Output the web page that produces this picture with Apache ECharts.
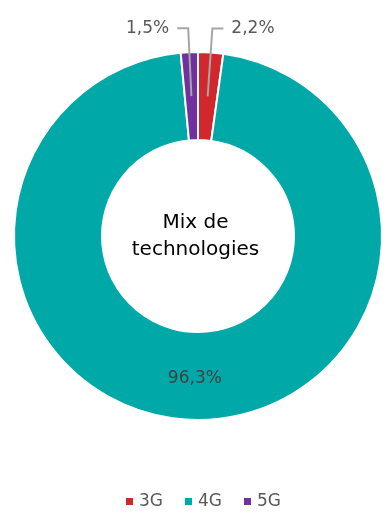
<!DOCTYPE html>
<html>
<head>
<meta charset="utf-8">
<script src="https://cdn.jsdelivr.net/npm/echarts@6/dist/echarts.min.js"></script>
<style>
  html, body { margin: 0; padding: 0; background: #fff; }
  #chart { width: 391px; height: 515px; }
</style>
</head>
<body>
<div id="chart"></div>
<script>
  // données
  const categories = ['3G', '4G', '5G'];
  const values = [2.2, 96.3, 1.5];
  const colors = ['#D0282C', '#00A9A8', '#7030A0'];

  const cx = 198, cy = 236;
  const rIn = 96, rOut = 184;
  const rMid = (rIn + rOut) / 2;

  const fmt = function (p) { return String(p.value).replace('.', ',') + '%'; };
  const font = 'DejaVu Sans';

  const chart = echarts.init(document.getElementById('chart'));

  // anneau principal (seul le libellé 4G est dedans)
  const ringData = categories.map(function (c, i) {
    const item = { name: c, value: values[i], itemStyle: { color: colors[i] } };
    if (c === '4G') {
      item.label = { show: true, position: 'inside', formatter: fmt, color: '#404040', fontSize: 17, fontFamily: font };
    }
    return item;
  });

  // couche transparente pour les étiquettes 3G / 5G : les lignes partent du milieu de l'anneau
  const labelData = categories.map(function (c, i) {
    const item = { name: c, value: values[i] };
    if (c === '4G') {
      item.label = { show: false };
      item.labelLine = { show: false };
    }
    return item;
  });

  chart.setOption({
    animation: false,
    legend: {
      bottom: 0,
      left: 119,
      itemWidth: 9,
      itemHeight: 9,
      itemGap: 20,
      icon: 'rect',
      textStyle: { fontSize: 17, color: '#595959', fontFamily: font },
      data: categories.map(function (c, i) {
        return { name: c, itemStyle: { color: colors[i] } };
      })
    },
    graphic: [{
      type: 'text',
      left: 'center',
      top: cy - 27,
      style: {
        text: 'Mix de\ntechnologies',
        font: '20px "DejaVu Sans"',
        fill: '#000',
        textAlign: 'center',
        lineHeight: 27
      }
    }],
    series: [{
      type: 'pie',
      center: [cx, cy],
      radius: [rIn, rOut],
      startAngle: 90,
      clockwise: true,
      z: 2,
      itemStyle: { borderColor: '#fff', borderWidth: 2 },
      label: { show: false },
      labelLine: { show: false },
      emphasis: { disabled: true },
      data: ringData
    }, {
      type: 'pie',
      center: [cx, cy],
      radius: [0, rMid],
      startAngle: 90,
      clockwise: true,
      z: 5,
      silent: true,
      legendHoverLink: false,
      itemStyle: { color: 'rgba(0,0,0,0)', borderWidth: 0 },
      label: {
        show: true,
        position: 'outside',
        formatter: fmt,
        fontSize: 17,
        fontFamily: font,
        color: '#595959',
        distanceToLabelLine: 8
      },
      labelLine: {
        show: true,
        length: rOut - rMid + 24,
        length2: 11,
        lineStyle: { color: '#A6A6A6', width: 2 }
      },
      data: labelData
    }]
  });
</script>
</body>
</html>
